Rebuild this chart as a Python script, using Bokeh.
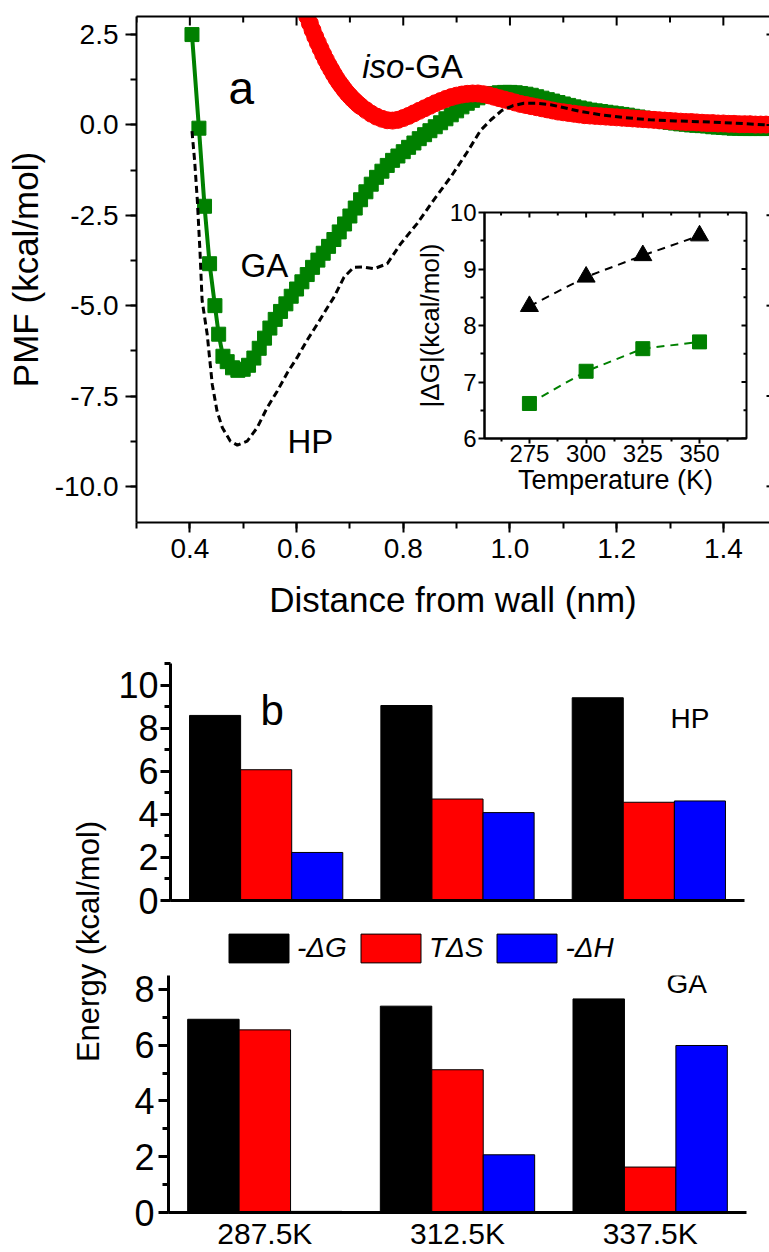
from math import pi
from bokeh.plotting import figure
from bokeh.models import (Range1d, FactorRange, LinearAxis, CategoricalAxis, SingleIntervalTicker,
                          FixedTicker, PrintfTickFormatter, Label, Legend, LegendItem,
                          ColumnDataSource)
from bokeh.layouts import column, row
from bokeh.transform import dodge
from bokeh.core.properties import value
from bokeh.embed import file_html
from bokeh.resources import INLINE

FONT = "Liberation Sans"

# ---------------- panel a data ----------------
ga_x = [0.404, 0.417, 0.4275, 0.437, 0.447, 0.454, 0.462,
        0.47, 0.48, 0.49, 0.50, 0.51, 0.52, 0.53, 0.54, 0.55, 0.56, 0.57, 0.58, 0.59,
        0.60, 0.61, 0.62, 0.63, 0.64, 0.65, 0.66, 0.67, 0.68, 0.69,
        0.70, 0.71, 0.72, 0.73, 0.74, 0.75, 0.76, 0.77, 0.78, 0.79,
        0.80, 0.81, 0.82, 0.83, 0.84, 0.85, 0.86, 0.87, 0.88, 0.89,
        0.90, 0.91, 0.92, 0.93, 0.94, 0.95, 0.96, 0.97, 0.98, 0.99,
        1.00, 1.01, 1.02, 1.03, 1.04, 1.05, 1.06, 1.07, 1.08, 1.09,
        1.10, 1.11, 1.12, 1.13, 1.14, 1.15, 1.16, 1.17, 1.18, 1.19,
        1.20, 1.21, 1.22, 1.23, 1.24, 1.25, 1.26, 1.27, 1.28, 1.29,
        1.30, 1.31, 1.32, 1.33, 1.34, 1.35, 1.36, 1.37, 1.38, 1.39,
        1.40, 1.41, 1.42, 1.43, 1.44, 1.45, 1.46, 1.47, 1.48]
ga_y = [2.50, -0.09, -2.25, -3.84, -5.00, -5.79, -6.40,
        -6.55, -6.72, -6.79, -6.76, -6.65, -6.45, -6.18, -5.90, -5.62, -5.38, -5.16, -4.95, -4.74,
        -4.54, -4.34, -4.14, -3.94, -3.74, -3.55, -3.36, -3.17, -2.96, -2.74,
        -2.52, -2.30, -2.07, -1.85, -1.64, -1.45, -1.28, -1.12, -0.98, -0.86,
        -0.74, -0.62, -0.50, -0.38, -0.27, -0.16, -0.05, 0.06, 0.17, 0.28,
        0.39, 0.50, 0.60, 0.68, 0.75, 0.80, 0.84, 0.87, 0.89, 0.90,
        0.90, 0.89, 0.87, 0.85, 0.82, 0.78, 0.74, 0.70, 0.66, 0.62,
        0.58, 0.54, 0.50, 0.47, 0.44, 0.41, 0.39, 0.37, 0.35, 0.33,
        0.31, 0.29, 0.27, 0.24, 0.22, 0.19, 0.17, 0.14, 0.12, 0.09,
        0.07, 0.05, 0.03, 0.02, 0.00, -0.01, -0.02, -0.03, -0.05, -0.06,
        -0.07, -0.08, -0.09, -0.09, -0.10, -0.10, -0.10, -0.10, -0.10]

iso_x = [0.61, 0.615, 0.62, 0.625, 0.63, 0.635, 0.64, 0.645, 0.65, 0.655, 0.66, 0.665,
         0.67, 0.675, 0.68, 0.685, 0.69, 0.695, 0.70, 0.705, 0.71, 0.715, 0.72,
         0.73, 0.74, 0.75, 0.76, 0.77, 0.78, 0.79,
         0.80, 0.81, 0.82, 0.83, 0.84, 0.85, 0.86, 0.87, 0.88, 0.89,
         0.90, 0.91, 0.92, 0.93, 0.94, 0.95, 0.96, 0.97, 0.98, 0.99,
         1.00, 1.01, 1.02, 1.03, 1.04, 1.05, 1.06, 1.07, 1.08, 1.09,
         1.10, 1.11, 1.12, 1.13, 1.14, 1.15, 1.16, 1.17, 1.18, 1.19,
         1.20, 1.21, 1.22, 1.23, 1.24, 1.25, 1.26, 1.27, 1.28, 1.29,
         1.30, 1.31, 1.32, 1.33, 1.34, 1.35, 1.36, 1.37, 1.38, 1.39,
         1.40, 1.41, 1.42, 1.43, 1.44, 1.45, 1.46, 1.47, 1.48]
iso_y = [3.35, 3.17, 3.00, 2.81, 2.62, 2.44, 2.27, 2.11, 1.95, 1.80, 1.66, 1.53,
         1.40, 1.28, 1.17, 1.07, 0.97, 0.88, 0.80, 0.72, 0.65, 0.58, 0.52,
         0.41, 0.31, 0.23, 0.17, 0.13, 0.12, 0.14,
         0.19, 0.25, 0.32, 0.39, 0.46, 0.53, 0.60, 0.66, 0.72, 0.77,
         0.81, 0.84, 0.86, 0.87, 0.87, 0.85, 0.82, 0.78, 0.74, 0.70,
         0.66, 0.62, 0.58, 0.55, 0.52, 0.49, 0.46, 0.43, 0.40, 0.37,
         0.35, 0.33, 0.31, 0.29, 0.27, 0.26, 0.25, 0.24, 0.23, 0.22,
         0.21, 0.20, 0.19, 0.18, 0.17, 0.16, 0.15, 0.14, 0.13, 0.12,
         0.11, 0.10, 0.09, 0.08, 0.08, 0.07, 0.06, 0.05, 0.05, 0.04,
         0.04, 0.03, 0.03, 0.02, 0.02, 0.02, 0.01, 0.01, 0.01]

hp_x = [0.404, 0.409, 0.414, 0.419, 0.423, 0.4325, 0.442, 0.451, 0.461, 0.476, 0.489, 0.5075,
        0.526, 0.545, 0.564, 0.583, 0.601, 0.62, 0.639, 0.655, 0.67, 0.689, 0.707, 0.725,
        0.745, 0.77, 0.795, 0.826, 0.857, 0.889, 0.92, 0.945, 0.965, 0.985, 1.005, 1.026,
        1.05, 1.076, 1.10, 1.13, 1.17, 1.21, 1.263, 1.31, 1.357, 1.42, 1.482]
hp_y = [-0.17, -1.00, -2.08, -3.50, -4.86, -5.79, -7.18, -7.92, -8.38, -8.75, -8.86, -8.75,
        -8.38, -7.82, -7.36, -6.85, -6.44, -5.95, -5.51, -5.12, -4.77, -4.21, -3.94, -3.93,
        -3.98, -3.84, -3.29, -2.73, -2.08, -1.44, -0.75, -0.15, 0.15, 0.40, 0.53, 0.60,
        0.60, 0.56, 0.48, 0.38, 0.28, 0.21, 0.14, 0.11, 0.09, 0.05, 0.00]

# panel a tick positions
a_x_major = [0.4, 0.6, 0.8, 1.0, 1.2, 1.4]
a_x_minor = [0.3, 0.5, 0.7, 0.9, 1.1, 1.3]
a_y_major = [-10.0, -7.5, -5.0, -2.5, 0.0, 2.5]

# inset data
temps = [275, 300, 325, 350]
hp_abs_dg = [8.34, 8.86, 9.24, 9.59]
ga_abs_dg = [6.62, 7.19, 7.59, 7.71]
inset_x_major = [275, 300, 325, 350]
inset_x_minor = [262.5, 287.5, 312.5, 337.5, 362.5]
inset_y_major = [6, 7, 8, 9, 10]
inset_y_minor = [6.5, 7.5, 8.5, 9.5]

# ---------------- panel b data ----------------
cats = ["287.5K", "312.5K", "337.5K"]
hp_neg_dG = [8.59, 9.05, 9.41]
hp_TdS = [6.07, 4.71, 4.56]
hp_neg_dH = [2.23, 4.08, 4.62]
ga_neg_dG = [6.93, 7.40, 7.66]
ga_TdS = [6.55, 5.12, 1.63]
ga_neg_dH = [0.04, 2.07, 5.99]
legend_labels = ["-ΔG", "TΔS", "-ΔH"]

GREEN = "#008000"
RED = "#FF0000"
BLUE = "#0000FF"
BAR_COLORS = ["black", RED, BLUE]


def style_axis(ax, tick_out, minor_out, tick_in=0, minor_in=0, font="27px", standoff=6, lw=2):
    ax.axis_line_width = lw
    ax.major_tick_line_width = lw
    ax.minor_tick_line_width = lw
    ax.major_tick_out = tick_out
    ax.major_tick_in = tick_in
    ax.minor_tick_out = minor_out
    ax.minor_tick_in = minor_in
    ax.major_label_text_font = FONT
    ax.major_label_text_font_size = font
    ax.major_label_text_color = "black"
    ax.major_label_standoff = standoff
    ax.axis_label_text_font = FONT
    ax.axis_label_text_font_style = "normal"
    ax.axis_label_text_color = "black"


def line_axis(lw=2):
    ax = LinearAxis(ticker=FixedTicker(ticks=[], minor_ticks=[]))
    ax.axis_line_width = lw
    ax.major_tick_out = 0
    ax.major_tick_in = 0
    ax.minor_tick_out = 0
    ax.minor_tick_in = 0
    ax.major_label_standoff = 0
    return ax


def ticks(p, xs, ys, length, angle, lw=2):
    p.ray(x=xs, y=ys, length=length, angle=angle, length_units="screen",
          line_color="black", line_width=lw)


def lab(p, x, y, text, size, style="normal", **kw):
    p.add_layout(Label(x=x, y=y, text=text, text_font=FONT, text_font_size=size,
                       text_font_style=style, text_color="black",
                       text_baseline="alphabetic", text_align="left", **kw))


# ================= panel a =================
AX0, AX1, AY0, AY1 = 0.3, 1.4865, -11, 3
pa = figure(width=769, height=640, x_range=Range1d(AX0, AX1), y_range=Range1d(AY0, AY1),
            x_axis_type=None, y_axis_type=None, output_backend="svg", toolbar_location=None,
            min_border_left=136, min_border_right=0, min_border_top=16, min_border_bottom=118)
pa.outline_line_color = None
pa.frame_align = False

xt = SingleIntervalTicker(interval=0.2, num_minor_ticks=2)
yt = SingleIntervalTicker(interval=2.5, num_minor_ticks=2)

ax_b = LinearAxis(ticker=xt, formatter=PrintfTickFormatter(format="%.1f"),
                  axis_label="Distance from wall (nm)")
style_axis(ax_b, 10, 6, font="28px", standoff=6)
ax_b.axis_label_text_font_size = "35px"
ax_b.axis_label_standoff = 19
pa.add_layout(ax_b, "below")

ax_l = LinearAxis(ticker=yt, formatter=PrintfTickFormatter(format="%.1f"),
                  axis_label="PMF (kcal/mol)")
style_axis(ax_l, 11, 6, font="28px", standoff=7)
ax_l.axis_label_text_font_size = "35px"
ax_l.axis_label_standoff = 7
pa.add_layout(ax_l, "left")

pa.add_layout(line_axis(2), "above")

pa.line(ga_x, ga_y, line_color=GREEN, line_width=4)
pa.scatter(ga_x, ga_y, marker="square", size=14, fill_color=GREEN, line_color=GREEN)
pa.scatter(iso_x, iso_y, marker="circle", size=17, fill_color=RED, line_color=RED)
pa.line(hp_x, hp_y, line_color="black", line_width=3, line_dash="7 4")

ticks(pa, a_x_major, [AY1] * len(a_x_major), 9, -pi / 2)
ticks(pa, a_x_minor, [AY1] * len(a_x_minor), 6, -pi / 2)
ticks(pa, [AX1] * len(a_y_major), a_y_major, 3, pi)

lab(pa, 0.4724, 1.03, "a", "46px")
lab(pa, 0.723, 1.62, "iso", "33px", "italic")
lab(pa, 0.723, 1.62, "-GA", "33px", x_offset=42)
lab(pa, 0.495, -3.89, "GA", "33px")
lab(pa, 0.583, -8.75, "HP", "33px")

# ================= inset =================
IX0, IX1, IY0, IY1 = 255.2, 370.7, 6, 10
pin = figure(width=345, height=310, x_range=Range1d(IX0, IX1), y_range=Range1d(IY0, IY1),
             x_axis_type=None, y_axis_type=None, output_backend="svg", toolbar_location=None,
             min_border_left=74, min_border_right=9, min_border_top=14, min_border_bottom=70)
pin.frame_align = False
pin.border_fill_color = None
pin.background_fill_color = "white"
pin.outline_line_color = "black"
pin.outline_line_width = 2

ib = LinearAxis(ticker=FixedTicker(ticks=inset_x_major, minor_ticks=inset_x_minor),
                axis_label="Temperature (K)")
style_axis(ib, 5, 3, font="24px", standoff=1)
ib.axis_label_text_font_size = "27px"
ib.axis_label_standoff = 0
pin.add_layout(ib, "below")

il = LinearAxis(ticker=FixedTicker(ticks=inset_y_major, minor_ticks=inset_y_minor),
                axis_label="|ΔG|(kcal/mol)")
style_axis(il, 6, 4, font="24px", standoff=2)
il.axis_label_text_font_size = "26px"
il.axis_label_standoff = 2
pin.add_layout(il, "left")

ticks(pin, inset_x_major, [IY1] * len(inset_x_major), 5, -pi / 2)
ticks(pin, inset_x_minor, [IY1] * len(inset_x_minor), 3, -pi / 2)
ticks(pin, [IX1] * len(inset_y_major), inset_y_major, 5, pi)
ticks(pin, [IX1] * len(inset_y_minor), inset_y_minor, 3, pi)

pin.line(temps, hp_abs_dg, line_color="black", line_width=2, line_dash="8 6")
pin.line(temps, ga_abs_dg, line_color=GREEN, line_width=2, line_dash="8 6")
pin.scatter(temps, hp_abs_dg, marker="triangle", size=18, fill_color="black", line_color="black")
pin.scatter(temps, ga_abs_dg, marker="square", size=14, fill_color=GREEN, line_color=GREEN)

pin.margin = (-442, 0, 132, 410)


# ================= panel b =================
def bar_fig(h, top, bottom, left, right, y0, y1, axes=True):
    p = figure(width=659, height=h, x_range=FactorRange(factors=cats, range_padding=0),
               y_range=Range1d(y0, y1), output_backend="svg", toolbar_location=None,
               x_axis_location=None, y_axis_location=None,
               min_border_left=left, min_border_right=right, min_border_top=top,
               min_border_bottom=bottom)
    p.frame_align = False
    p.outline_line_color = None
    p.grid.visible = False
    yax = None
    if axes:
        yax = LinearAxis(ticker=SingleIntervalTicker(interval=2, num_minor_ticks=2))
        p.add_layout(yax, "left")
    return p, yax


src_hp = ColumnDataSource(dict(cat=cats, a=hp_neg_dG, b=hp_TdS, c=hp_neg_dH))
src_ga = ColumnDataSource(dict(cat=cats, a=ga_neg_dG, b=ga_TdS, c=ga_neg_dH))
BW = 0.267


def bars(p, src):
    rs = []
    for off, col, c in zip([-BW, 0, BW], ["a", "b", "c"], BAR_COLORS):
        rs.append(p.vbar(x=dodge("cat", off, range=p.x_range), top=col, width=BW, source=src,
                         fill_color=c, line_color="black", line_width=1))
    return rs


pb1, y1 = bar_fig(290, 23, 30, 60, 25, 0, 11)
bars(pb1, src_hp)
style_axis(y1, 10, 6, font="36px", standoff=2, lw=3)
pb1.add_layout(line_axis(3), "below")
lab(pb1, 0.47, 8.82, "b", "42px")
lab(pb1, 2.613, 8.43, "HP", "28px")

pb2, y2 = bar_fig(322, 45, 39, 58, 23, 0, 8.5)
bars(pb2, src_ga)
style_axis(y2, 10, 6, font="36px", standoff=4, lw=3)
xcat = CategoricalAxis()
style_axis(xcat, 0, 0, font="30px", standoff=4, lw=3)
pb2.add_layout(xcat, "below")
lab(pb2, 2.585, 8.21, "GA", "28px")

# legend strip overlaid on the gap between the two bar charts
# (its bars use the GA data but its y window is above them, so only the legend shows)
pleg, _ = bar_fig(40, 0, 0, 0, 0, 100, 101, axes=False)
pleg.background_fill_color = None
pleg.border_fill_color = None
leg_renderers = bars(pleg, src_ga)
items = [LegendItem(label=value(name), renderers=[rr])
         for name, rr in zip(legend_labels, leg_renderers)]
legend = Legend(items=items, location=(111, 4), orientation="horizontal",
                glyph_width=75, glyph_height=36, label_standoff=1, spacing=6,
                padding=0, margin=0, border_line_color=None, background_fill_alpha=0,
                label_text_font=FONT, label_text_font_size="28px",
                label_text_font_style="italic", label_text_color="black")
pleg.add_layout(legend)
pleg.margin = (-322, 0, 282, 0)

pyl = figure(width=110, height=612, x_range=Range1d(0, 110), y_range=Range1d(0, 612),
             x_axis_type=None, y_axis_type=None, output_backend="svg", toolbar_location=None,
             min_border=0)
pyl.frame_align = False
pyl.outline_line_color = None
pyl.add_layout(Label(x=88, y=311, text="Energy (kcal/mol)", angle=pi / 2,
                     text_align="center", text_baseline="middle", text_font=FONT,
                     text_font_size="31px", text_color="black"))

layout = column(pa, pin, row(pyl, column(pb1, pb2, pleg)))

open("out.html", "w").write(file_html(layout, INLINE))
